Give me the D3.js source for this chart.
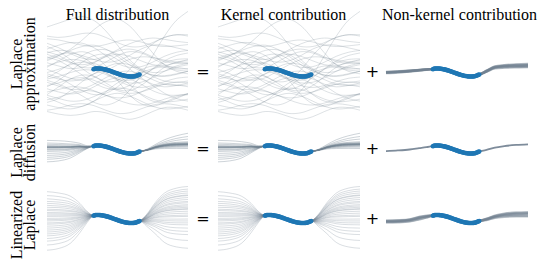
<!DOCTYPE html>
<html>
<head>
<meta charset="utf-8">
<script src="https://cdn.jsdelivr.net/npm/d3@7"></script>
<style>
  body { margin: 0; background: #fff; }
</style>
</head>
<body>
<script>
// column titles and row labels
var colTitles = ["Full distribution", "Kernel contribution", "Non-kernel contribution"];
var rowLabels = [["Laplace", "approximation"], ["Laplace", "diffusion"], ["Linearized", "Laplace"]];
var opSigns = ["=", "+"];

// observed data points (blue dots)
var dataX = [-1.02,-0.98,-0.94,-0.9,-0.86,-0.82,-0.78,-0.74,-0.7,-0.66,-0.62,-0.58,-0.54,-0.5,-0.46,-0.42,-0.38,-0.34,-0.3,-0.26,
  -0.22,-0.18,-0.14,-0.1,-0.06,-0.02,0.02,0.06,0.1,0.14,0.18,0.22,0.26,0.3,0.34,0.38,0.42,0.46,0.5,0.54,
  0.58,0.62,0.66,0.7,0.74,0.78,0.82,0.86,0.9,0.94];
var dataY = [0.5,0.56,0.6,0.61,0.62,0.61,0.61,0.6,0.58,0.56,0.54,0.51,0.48,0.44,0.4,0.36,0.32,0.27,0.22,0.17,
  0.12,0.07,0.01,-0.04,-0.09,-0.14,-0.2,-0.25,-0.29,-0.34,-0.38,-0.42,-0.46,-0.5,-0.53,-0.55,-0.58,-0.59,-0.61,-0.61,
  -0.62,-0.62,-0.61,-0.6,-0.58,-0.55,-0.5,-0.43,-0.37,-0.31];

// Laplace approximation samples, on an even grid
var gridX = [-3,-2.5,-2,-1.5,-1,-0.5,0,0.5,1,1.5,2,2.5,3];
var lapSamples = [
  [5.2,5.0,4.6,4.2,4.0,4.3,4.8,5.0,4.7,4.2,4.0,4.1,4.3],
  [4.5,3.8,2.9,2.2,2.0,2.6,3.5,4.4,5.0,5.3,5.1,4.8,4.6],
  [3.6,4.2,4.6,4.5,3.8,2.6,1.4,0.8,0.9,1.6,2.5,3.1,3.4],
  [2.8,2.2,1.5,1.2,1.6,2.5,3.3,3.6,3.2,2.4,1.7,1.4,1.5],
  [2.0,2.6,3.4,4.0,4.2,3.6,2.5,1.2,0.2,-0.4,-0.5,-0.2,0.2],
  [1.5,1.0,0.6,0.8,1.5,2.4,2.8,2.5,1.8,1.2,1.1,1.5,2.0],
  [1.0,1.6,2.0,1.8,1.0,-0.1,-1.0,-1.2,-0.6,0.5,1.5,2.0,2.1],
  [0.5,-0.2,-0.9,-1.2,-0.8,0.2,1.2,2.0,2.4,2.3,1.9,1.6,1.4],
  [0.0,0.5,1.2,1.6,1.4,0.7,0.0,-0.3,0.0,0.6,0.9,0.8,0.5],
  [-0.5,-1.0,-1.3,-1.0,-0.2,0.8,1.4,1.2,0.4,-0.6,-1.3,-1.5,-1.3],
  [-1.0,-0.6,0.0,0.4,0.3,-0.3,-1.2,-2.0,-2.3,-2.0,-1.4,-0.9,-0.7],
  [-1.5,-2.1,-2.6,-2.5,-1.8,-0.8,0.0,0.2,-0.3,-1.1,-1.8,-2.0,-1.9],
  [-2.0,-1.6,-1.0,-0.8,-1.2,-2.0,-2.8,-3.2,-3.0,-2.4,-1.8,-1.5,-1.6],
  [-2.5,-3.0,-3.3,-3.0,-2.2,-1.3,-0.8,-1.0,-1.8,-2.8,-3.4,-3.5,-3.3],
  [-3.0,-2.6,-2.2,-2.3,-2.8,-3.5,-3.9,-3.7,-3.0,-2.2,-1.8,-1.9,-2.2],
  [-3.5,-4.0,-4.4,-4.3,-3.7,-2.9,-2.4,-2.6,-3.3,-4.1,-4.5,-4.4,-4.1],
  [-4.2,-3.8,-3.2,-2.8,-2.9,-3.5,-4.2,-4.8,-5.0,-4.7,-4.1,-3.6,-3.3],
  [-5.0,-5.4,-5.6,-5.2,-4.4,-3.6,-3.2,-3.6,-4.4,-5.2,-5.6,-5.5,-5.2],
  [-5.8,-5.5,-5.0,-4.8,-5.1,-5.8,-6.3,-6.2,-5.6,-5.0,-4.8,-5.0,-5.4],
  [3.0,3.4,3.2,2.4,1.2,0.0,-1.0,-1.6,-1.5,-0.8,0.2,1.0,1.4],
  [-0.8,0.2,1.4,2.6,3.4,3.5,2.8,1.6,0.4,-0.4,-0.6,-0.3,0.2],
  [2.4,1.8,0.8,-0.4,-1.6,-2.4,-2.6,-2.0,-0.8,0.6,1.8,2.6,3.0],
  [-2.2,-1.2,0.2,1.6,2.6,2.8,2.0,0.6,-0.8,-1.8,-2.2,-2.0,-1.6],
  [7.0,7.6,8.2,8.6,8.0,6.4,4.2,2.0,0.6,0.0,0.2,0.8,1.2],
  [-1.2,-1.8,-2.6,-3.6,-4.6,-5.0,-4.4,-2.8,-0.4,2.6,5.6,8.0,9.4],
  [4.0,3.2,2.0,0.6,-0.6,-1.4,-1.2,0.4,2.6,4.4,5.4,5.8,5.8],
  [0.8,1.8,2.8,3.2,2.6,1.0,-1.2,-3.4,-4.8,-5.2,-4.6,-3.8,-3.4],
  [-4.6,-4.0,-2.8,-1.4,-0.2,0.2,-0.4,-1.8,-3.4,-4.4,-4.6,-4.0,-3.2],
  [1.8,2.6,3.6,5.0,6.6,7.8,8.2,7.2,5.2,3.0,1.2,0.2,-0.2],
  [-6.0,-6.4,-6.6,-6.4,-6.0,-6.2,-6.8,-7.2,-6.8,-6.0,-5.4,-5.4,-5.8],
  [3.2,2.6,1.6,0.8,0.8,1.6,2.6,3.2,3.0,2.2,1.2,0.6,0.6],
  [-3.4,-2.2,-1.0,-0.4,-0.6,-1.6,-2.6,-2.8,-2.0,-0.6,0.8,1.6,1.8],
  [5.6,5.4,5.6,6.0,6.0,5.4,4.6,4.0,4.0,4.6,5.4,5.8,5.6],
  [-0.2,-0.8,-1.8,-2.8,-3.4,-3.2,-2.2,-0.8,0.4,1.0,0.8,0.4,0.2],
  [2.2,2.8,3.0,2.6,2.0,1.6,1.8,2.6,3.6,4.2,4.2,3.8,3.4],
  [-3.8,-4.6,-5.2,-5.2,-4.4,-3.0,-1.6,-0.8,-1.0,-2.0,-3.2,-4.0,-4.4]
];

// pinned curves: own left part, shared middle through the data, own right part
var leftX = [-3,-2.5,-2,-1.6,-1.3];
var midX = [-1.0,-0.86,-0.5,-0.1,0.3,0.6,0.95];
var midY = [0.55,0.62,0.44,-0.04,-0.5,-0.62,-0.31];
var rightX = [1.25,1.6,2.0,2.5,3];

// Laplace approximation, non-kernel part
var lapNkLeft = [
  [0.0,0.1,0.22,0.35,0.45], [0.1,0.18,0.28,0.4,0.48], [-0.1,0.0,0.15,0.3,0.42],
  [0.05,0.15,0.26,0.38,0.47], [-0.05,0.05,0.18,0.32,0.44], [0.0,0.1,0.23,0.36,0.46]
];
var lapNkRight = [
  [0.2,0.8,0.95,1.02,1.05], [0.28,0.92,1.12,1.25,1.3], [0.12,0.65,0.75,0.8,0.82],
  [0.24,0.86,1.05,1.15,1.2], [0.15,0.72,0.84,0.88,0.9], [0.22,0.83,1.0,1.08,1.12]
];

// Laplace diffusion samples
var diffLeft = [
  [1.4,1.35,1.2,0.95,0.6], [1.0,0.95,0.85,0.75,0.5], [0.6,0.58,0.55,0.55,0.42], [0.45,0.45,0.45,0.5,0.4],
  [0.35,0.35,0.38,0.45,0.38], [0.3,0.3,0.33,0.42,0.37], [0.2,0.22,0.27,0.38,0.36], [0.0,0.03,0.12,0.3,0.34],
  [-0.3,-0.25,-0.1,0.18,0.3], [-0.6,-0.55,-0.33,0.05,0.27], [-0.9,-0.83,-0.55,-0.07,0.24], [-1.2,-1.1,-0.78,-0.2,0.2],
  [-1.5,-1.38,-1.0,-0.33,0.17], [-1.9,-1.75,-1.3,-0.5,0.12], [0.5,0.48,0.46,0.5,0.4], [0.4,0.4,0.42,0.48,0.39],
  [0.32,0.33,0.36,0.43,0.37], [0.8,0.76,0.7,0.62,0.45], [0.25,0.26,0.3,0.4,0.36], [-0.1,-0.07,0.05,0.25,0.32]
];
var diffRight = [
  [0.05,0.75,1.5,2.1,2.5], [0.0,0.6,1.2,1.7,2.0], [-0.05,0.5,1.0,1.4,1.6], [-0.05,0.45,0.85,1.1,1.2],
  [-0.08,0.38,0.7,0.9,0.95], [-0.08,0.35,0.65,0.8,0.85], [-0.08,0.33,0.62,0.76,0.8], [-0.1,0.3,0.55,0.7,0.75],
  [-0.1,0.28,0.5,0.62,0.65], [-0.12,0.22,0.4,0.48,0.5], [-0.14,0.15,0.3,0.35,0.35], [-0.16,0.08,0.15,0.17,0.15],
  [-0.1,0.3,0.6,0.75,0.8], [-0.09,0.34,0.66,0.82,0.86], [-0.06,0.42,0.8,1.0,1.05], [-0.12,0.25,0.45,0.55,0.58],
  [-0.09,0.32,0.6,0.74,0.78], [-0.07,0.4,0.75,0.95,1.0], [-0.1,0.29,0.56,0.68,0.72], [-0.08,0.36,0.68,0.85,0.9]
];
var diffNkLeft = [[-0.25,-0.15,0.0,0.2,0.35]];
var diffNkRight = [[-0.05,0.3,0.52,0.7,0.8]];

// Linearized Laplace samples
var linLeft = [
  [4.2,4.0,3.5,2.4,1.2], [3.6,3.45,3.0,2.1,1.1], [3.1,2.95,2.6,1.85,1.0], [2.7,2.6,2.3,1.65,0.9],
  [2.4,2.3,2.0,1.5,0.85], [2.1,2.0,1.8,1.35,0.8], [1.8,1.75,1.55,1.2,0.75], [1.5,1.45,1.3,1.05,0.7],
  [1.3,1.25,1.15,0.95,0.65], [1.0,0.98,0.9,0.8,0.6], [0.8,0.79,0.76,0.7,0.54], [0.6,0.6,0.6,0.6,0.5],
  [0.4,0.41,0.44,0.5,0.46], [0.1,0.12,0.2,0.35,0.4], [-0.1,-0.07,0.04,0.25,0.36], [-0.3,-0.25,-0.12,0.15,0.32],
  [-0.6,-0.54,-0.36,0.0,0.26], [-0.8,-0.73,-0.52,-0.1,0.22], [-1.1,-1.02,-0.76,-0.25,0.16], [-1.4,-1.3,-1.0,-0.4,0.1],
  [-1.7,-1.6,-1.24,-0.55,0.04], [-2.0,-1.87,-1.48,-0.7,-0.02], [-2.3,-2.15,-1.72,-0.85,-0.08], [-2.6,-2.44,-1.96,-1.0,-0.14],
  [-3.0,-2.82,-2.28,-1.2,-0.22], [-3.4,-3.2,-2.6,-1.4,-0.3], [-4.0,-3.77,-3.08,-1.7,-0.42], [-4.8,-4.53,-3.72,-2.1,-0.58]
];
var linRight = [
  [0.56,2.0,3.19,3.79,4.0], [-0.3,-0.15,-0.25,-0.3,-0.3], [0.3,1.35,2.15,2.55,2.7], [-0.62,-0.95,-1.53,-1.82,-1.9],
  [0.06,0.75,1.19,1.41,1.5], [0.68,2.3,3.67,4.36,4.6], [-0.16,0.2,0.31,0.37,0.4], [0.2,1.1,1.75,2.08,2.2],
  [-0.9,-1.65,-2.65,-3.15,-3.3], [0.42,1.65,2.63,3.12,3.3], [-0.06,0.45,0.71,0.84,0.9], [-0.42,-0.45,-0.73,-0.87,-0.9],
  [0.76,2.5,3.99,4.74,5.0], [0.12,0.9,1.43,1.7,1.8], [-0.24,0.0,-0.01,-0.02,0.0], [0.36,1.5,2.39,2.84,3.0],
  [-0.52,-0.7,-1.13,-1.35,-1.4], [0.0,0.6,0.95,1.13,1.2], [0.5,1.85,2.95,3.5,3.7], [-1.14,-2.25,-3.61,-4.29,-4.5],
  [0.26,1.25,1.99,2.36,2.5], [-0.12,0.3,0.47,0.55,0.6], [0.48,1.8,2.87,3.4,3.6], [-0.36,-0.3,-0.49,-0.59,-0.6],
  [0.62,2.15,3.43,4.07,4.3], [0.08,0.8,1.27,1.5,1.6], [-0.72,-1.2,-1.93,-2.3,-2.4], [0.16,1.0,1.59,1.89,2.0]
];
var linNkLeft = [
  [-0.25,-0.2,-0.05,0.3,0.45], [-0.45,-0.42,-0.3,0.0,0.25], [-0.35,-0.3,-0.1,0.3,0.5],
  [-0.55,-0.5,-0.35,-0.05,0.2], [-0.4,-0.36,-0.2,0.15,0.35], [-0.3,-0.28,-0.15,0.2,0.4]
];
var linNkRight = [
  [0.0,0.45,0.75,0.9,0.95], [-0.1,0.25,0.45,0.5,0.5], [-0.05,0.35,0.6,0.7,0.75],
  [-0.15,0.2,0.35,0.4,0.4], [0.05,0.5,0.8,1.0,1.05], [-0.03,0.4,0.68,0.8,0.85]
];

// layout
var W = 543, H = 261;
var colRange = [[47, 188], [218, 360], [386, 528]];
var titleX = [117.5, 283.5, 459.5];
var rowCenter = [72.5, 149.5, 219];
var unitPx = 6.5;
var labelY = [64, 152.5, 225];
var signX = [203, 372.5];
var sampleOpacity = [0.24, 0.35, 0.26];
var grey = "#708090", blue = "#1f77b4";

var svg = d3.select("body").append("svg")
  .attr("width", W)
  .attr("height", H);

function pinned(left, right) {
  var pts = [];
  leftX.forEach(function(x, i) { pts.push([x, left[i]]); });
  midX.forEach(function(x, i) { pts.push([x, midY[i]]); });
  rightX.forEach(function(x, i) { pts.push([x, right[i]]); });
  return pts;
}

function even(vals) {
  return gridX.map(function(x, i) { return [x, vals[i]]; });
}

// curve sets per row: [samples, non-kernel]
var rows = [
  { samples: lapSamples.map(even), curve: d3.curveCatmullRom,
    nk: lapNkLeft.map(function(l, i) { return pinned(l, lapNkRight[i]); }), nkWidth: 2.4, nkOpacity: 0.5 },
  { samples: diffLeft.map(function(l, i) { return pinned(l, diffRight[i]); }), curve: d3.curveMonotoneX,
    nk: diffNkLeft.map(function(l, i) { return pinned(l, diffNkRight[i]); }), nkWidth: 1.8, nkOpacity: 0.9 },
  { samples: linLeft.map(function(l, i) { return pinned(l, linRight[i]); }), curve: d3.curveMonotoneX,
    nk: linNkLeft.map(function(l, i) { return pinned(l, linNkRight[i]); }), nkWidth: 2.4, nkOpacity: 0.45 }
];

rows.forEach(function(row, r) {
  var y = d3.scaleLinear()
    .domain([-1, 1])
    .range([rowCenter[r] + unitPx, rowCenter[r] - unitPx]);

  for (var c = 0; c < 3; c++) {
    var x = d3.scaleLinear()
      .domain([-3, 3])
      .range(colRange[c]);

    var g = svg.append("g");

    if (c < 2) {
      var line = d3.line()
        .x(function(d) { return x(d[0]); })
        .y(function(d) { return y(d[1]); })
        .curve(row.curve);
      g.selectAll("path.sample")
        .data(row.samples)
        .enter().append("path")
        .attr("class", "sample")
        .attr("d", line)
        .attr("fill", "none")
        .attr("stroke", grey)
        .attr("stroke-opacity", sampleOpacity[r])
        .attr("stroke-width", 1);
    } else {
      var nkLine = d3.line()
        .x(function(d) { return x(d[0]); })
        .y(function(d) { return y(d[1]); })
        .curve(d3.curveMonotoneX);
      g.selectAll("path.nk")
        .data(row.nk)
        .enter().append("path")
        .attr("class", "nk")
        .attr("d", nkLine)
        .attr("fill", "none")
        .attr("stroke", grey)
        .attr("stroke-opacity", row.nkOpacity)
        .attr("stroke-width", row.nkWidth);
    }

    // data points
    g.selectAll("circle")
      .data(dataX)
      .enter().append("circle")
      .attr("cx", function(d) { return x(d); })
      .attr("cy", function(d, i) { return y(dataY[i]); })
      .attr("r", 2.3)
      .attr("fill", blue);
  }

  // = and + between the columns
  opSigns.forEach(function(s, k) {
    svg.append("text")
      .attr("x", signX[k])
      .attr("y", rowCenter[r] + 4.5)
      .attr("text-anchor", "middle")
      .attr("font-family", "DejaVu Sans")
      .attr("font-size", 16)
      .text(s);
  });

  // row label, two lines turned on their side
  var lab = svg.append("text")
    .attr("transform", "translate(0," + labelY[r] + ") rotate(-90)")
    .attr("text-anchor", "middle")
    .attr("font-family", "Liberation Serif")
    .attr("font-size", 16);
  rowLabels[r].forEach(function(t, k) {
    lab.append("tspan")
      .attr("x", 0)
      .attr("y", 22 + k * 13)
      .text(t);
  });
});

// column titles
svg.selectAll("text.title")
  .data(colTitles)
  .enter().append("text")
  .attr("class", "title")
  .attr("x", function(d, i) { return titleX[i]; })
  .attr("y", 20)
  .attr("text-anchor", "middle")
  .attr("font-family", "Liberation Serif")
  .attr("font-size", 16)
  .text(function(d) { return d; });
</script>
</body>
</html>
